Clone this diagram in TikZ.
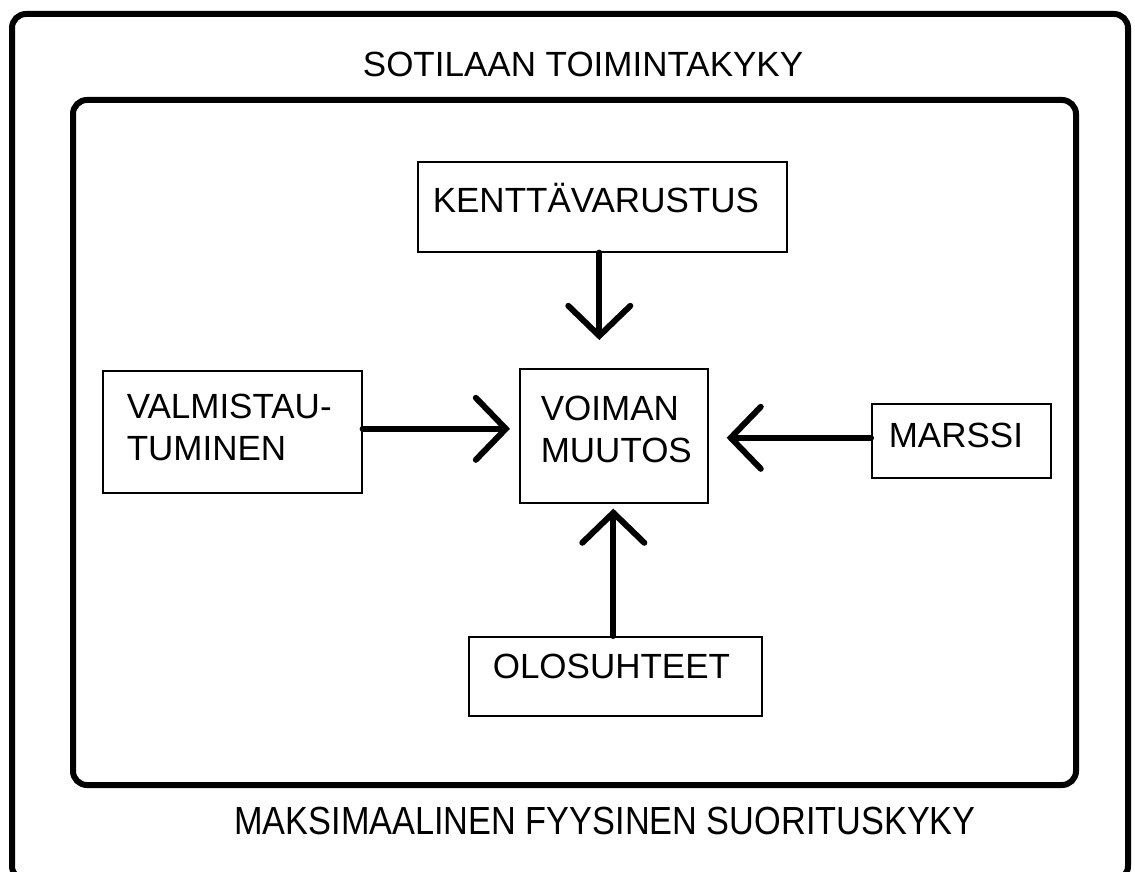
\documentclass[tikz,border=0pt]{standalone}
\usepackage{fontspec}
\setmainfont{Liberation Sans}
\usetikzlibrary{positioning, arrows.meta}

\begin{document}
\begin{tikzpicture}
    [
      x=1pt, y=-1pt,
      every node/.style = {font=\fontsize{35}{42}\selectfont},
      frame/.style = {line width=6pt, rounded corners=14pt},
      box/.style = {shape=rectangle, draw, line width=1.6pt, anchor=north west,
                    align=left, inner ysep=0pt, text height=25pt},
      arr/.style = {line width=6pt, line cap=round,
                    -{Straight Barb[length=30pt, width=62pt, line cap=round]}}
    ]

    \useasboundingbox (0,0) rectangle (1135,872);
    % outer frame runs off the bottom edge
    \begin{scope}
      \clip (0,0) rectangle (1135,872);
      \draw[frame] (12,14) rectangle (1128,880);
    \end{scope}
    \draw[frame] (73,100) rectangle (1076,785);

    \node[text height=25pt] (toimkyky) at (583,64.5) {SOTILAAN TOIMINTAKYKY};
    \node[text height=28pt] (suorkyky) at (605,821) {\scalebox{0.98}[1.12]{MAKSIMAALINEN FYYSINEN SUORITUSKYKY}};

    \node[box, text width=339pt, inner xsep=15pt, text depth=13pt, minimum height=90pt] (kentta) at (417,161) {KENTTÄVARUSTUS};
    \node[box, text width=146pt, inner xsep=21pt, text depth=55pt, minimum height=134pt] (voima) at (519,368) {VOIMAN\\MUUTOS};
    \node[box, text width=211pt, inner xsep=24pt, text depth=51pt, minimum height=122pt] (valmist) at (102,370) {\mbox{VALMISTAU-}\\TUMINEN};
    \node[box, text width=145pt, inner xsep=17pt, text depth=11pt, minimum height=74pt] (marssi) at (871,403) {MARSSI};
    \node[box, text width=245pt, inner xsep=24pt, text depth=20pt, minimum height=79pt] (olot) at (468,636) {OLOSUHTEET};

    \draw[arr, shorten >=28pt] ([xshift=-3pt]kentta.south) -- ([xshift=-3pt]kentta.south |- voima.north);
    \draw[arr, shorten >=9pt] ([yshift=3pt]valmist.east) -- ([yshift=3pt]valmist.east -| voima.west);
    \draw[arr, shorten >=18pt] ([yshift=3pt]marssi.west) -- ([yshift=3pt]marssi.west -| voima.east);
    \draw[arr, shorten >=5pt] ([xshift=-2pt]olot.north) -- ([xshift=-2pt]olot.north |- voima.south);
  \end{tikzpicture}
\end{document}
